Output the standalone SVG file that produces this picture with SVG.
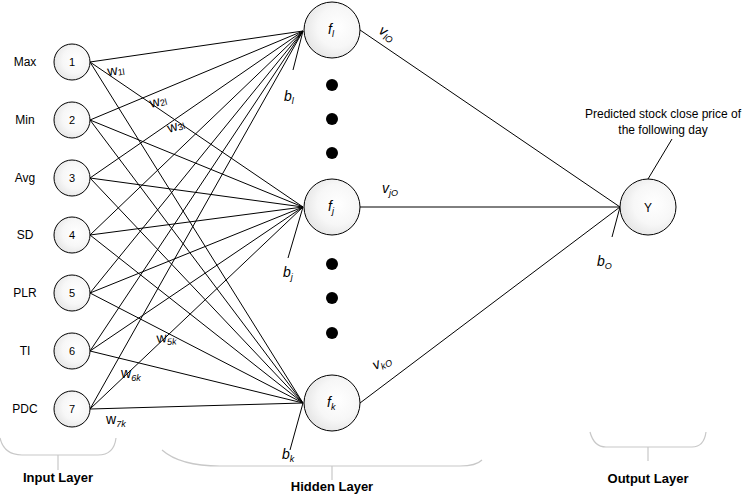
<svg xmlns="http://www.w3.org/2000/svg" width="751" height="496" viewBox="0 0 751 496">
<defs>
<radialGradient id="g" cx="0.6" cy="0.45" r="0.6">
<stop offset="0" stop-color="#ffffff"/>
<stop offset="0.6" stop-color="#f7f7f7"/>
<stop offset="1" stop-color="#e6e6e6"/>
</radialGradient>
</defs>
<style>
.n{fill:url(#g);stroke:#000;stroke-width:1}
.c{stroke:#000;stroke-width:1;fill:none}
.t{font-family:"Liberation Sans",Arial,sans-serif;font-size:12px;fill:#000}
.num{font-family:"Liberation Sans",Arial,sans-serif;font-size:11px;fill:#000;text-anchor:middle}
.it{font-family:"Liberation Sans",Arial,sans-serif;font-size:14px;font-style:italic;fill:#000}
.sub{font-size:9px}
.w{font-family:"Liberation Sans",Arial,sans-serif;font-size:14px;fill:#000}
.br{stroke:#c8c8c8;stroke-width:1.2;fill:none}
.lay{font-family:"Liberation Sans",Arial,sans-serif;font-size:13px;font-weight:bold;fill:#000;text-anchor:middle}
.dot{fill:#000}
</style>
<rect width="751" height="496" fill="#fff"/>
<g id="connectors">
<line class="c" x1="90" y1="62" x2="303" y2="31"/>
<line class="c" x1="90" y1="120" x2="303" y2="31"/>
<line class="c" x1="90" y1="178" x2="303" y2="31"/>
<line class="c" x1="90" y1="235" x2="303" y2="31"/>
<line class="c" x1="90" y1="293" x2="303" y2="31"/>
<line class="c" x1="90" y1="351" x2="303" y2="31"/>
<line class="c" x1="90" y1="409" x2="303" y2="31"/>
<line class="c" x1="90" y1="62" x2="303" y2="207"/>
<line class="c" x1="90" y1="120" x2="303" y2="207"/>
<line class="c" x1="90" y1="178" x2="303" y2="207"/>
<line class="c" x1="90" y1="235" x2="303" y2="207"/>
<line class="c" x1="90" y1="293" x2="303" y2="207"/>
<line class="c" x1="90" y1="351" x2="303" y2="207"/>
<line class="c" x1="90" y1="409" x2="303" y2="207"/>
<line class="c" x1="90" y1="62" x2="303" y2="403"/>
<line class="c" x1="90" y1="120" x2="303" y2="403"/>
<line class="c" x1="90" y1="178" x2="303" y2="403"/>
<line class="c" x1="90" y1="235" x2="303" y2="403"/>
<line class="c" x1="90" y1="293" x2="303" y2="403"/>
<line class="c" x1="90" y1="351" x2="303" y2="403"/>
<line class="c" x1="90" y1="409" x2="303" y2="403"/>
<line class="c" x1="303" y1="31" x2="293" y2="70"/>
<line class="c" x1="303" y1="207" x2="288" y2="258"/>
<line class="c" x1="303" y1="403" x2="290" y2="450"/>
<line class="c" x1="360" y1="30" x2="620" y2="207"/>
<line class="c" x1="360" y1="207" x2="620" y2="207"/>
<line class="c" x1="360" y1="403" x2="620" y2="207"/>
<line class="c" x1="620" y1="207" x2="612" y2="237"/>
<line class="c" x1="648" y1="179" x2="672" y2="139"/>
</g>
<g id="input1"><circle class="n" cx="72" cy="62" r="18"/><text class="num" x="72" y="66">1</text><text class="t" x="25" y="66" text-anchor="middle">Max</text></g>
<g id="input2"><circle class="n" cx="72" cy="120" r="18"/><text class="num" x="72" y="124">2</text><text class="t" x="25" y="124" text-anchor="middle">Min</text></g>
<g id="input3"><circle class="n" cx="72" cy="178" r="18"/><text class="num" x="72" y="182">3</text><text class="t" x="25" y="182" text-anchor="middle">Avg</text></g>
<g id="input4"><circle class="n" cx="72" cy="235" r="18"/><text class="num" x="72" y="239">4</text><text class="t" x="25" y="239" text-anchor="middle">SD</text></g>
<g id="input5"><circle class="n" cx="72" cy="293" r="18"/><text class="num" x="72" y="297">5</text><text class="t" x="25" y="297" text-anchor="middle">PLR</text></g>
<g id="input6"><circle class="n" cx="72" cy="351" r="18"/><text class="num" x="72" y="355">6</text><text class="t" x="25" y="355" text-anchor="middle">TI</text></g>
<g id="input7"><circle class="n" cx="72" cy="409" r="18"/><text class="num" x="72" y="413">7</text><text class="t" x="25" y="413" text-anchor="middle">PDC</text></g>
<g id="hidden_l"><circle class="n" cx="332" cy="30" r="28"/><text class="it" x="328" y="34">f<tspan class="sub" dy="3">l</tspan></text></g>
<g id="hidden_j"><circle class="n" cx="332" cy="207" r="28"/><text class="it" x="328" y="211">f<tspan class="sub" dy="3">j</tspan></text></g>
<g id="hidden_k"><circle class="n" cx="332" cy="403" r="28"/><text class="it" x="327" y="407">f<tspan class="sub" dy="3">k</tspan></text></g>
<g id="dots">
<circle class="dot" cx="332" cy="85" r="6"/>
<circle class="dot" cx="332" cy="119" r="6"/>
<circle class="dot" cx="332" cy="153" r="6"/>
<circle class="dot" cx="332" cy="264" r="6"/>
<circle class="dot" cx="332" cy="298" r="6"/>
<circle class="dot" cx="332" cy="333" r="6"/>
</g>
<g id="output"><circle class="n" cx="648" cy="207" r="28"/><text class="t" x="648" y="212" text-anchor="middle" font-size="13">Y</text></g>
<g id="labels">
<text class="it" x="284" y="101">b<tspan class="sub" dy="3">l</tspan></text>
<text class="it" x="283" y="277">b<tspan class="sub" dy="3">j</tspan></text>
<text class="it" x="282" y="459">b<tspan class="sub" dy="3">k</tspan></text>
<text class="it" x="597" y="266">b<tspan class="sub" dy="3">O</tspan></text>
<text class="it" transform="translate(378,33) rotate(30)">v<tspan class="sub" dy="3">lO</tspan></text>
<text class="it" x="382" y="193">v<tspan class="sub" dy="3">jO</tspan></text>
<text class="it" transform="translate(375,370) rotate(-25)">v<tspan class="sub" dy="3">kO</tspan></text>
<text class="w" transform="translate(108,76) rotate(-8)">w<tspan class="sub" dy="1">1l</tspan></text>
<text class="w" transform="translate(151,108) rotate(-15)">w<tspan class="sub" dy="1">2l</tspan></text>
<text class="w" transform="translate(169,133) rotate(-18)">w<tspan class="sub" dy="1">3l</tspan></text>
<text class="w" transform="translate(157,343) rotate(-5)">w<tspan class="sub" dy="3" font-style="italic">5k</tspan></text>
<text class="w" transform="translate(121,378)">w<tspan class="sub" dy="3" font-style="italic">6k</tspan></text>
<text class="w" x="106" y="424">w<tspan class="sub" dy="3" font-style="italic">7k</tspan></text>
<text class="t" x="663" y="118" text-anchor="middle" font-size="13">Predicted stock close price of</text>
<text class="t" x="663" y="134" text-anchor="middle" font-size="13">the following day</text>
</g>
<g id="braces">
<path class="br" d="M0,438 Q4,455 22,455 L98,455 Q114,455 116,438 M58,455 L58,470"/>
<path class="br" d="M162,450 Q180,466 220,466 L460,466 Q476,466 482,460 M332,466 L332,480"/>
<path class="br" d="M590,432 Q594,447 606,447 L692,447 Q704,447 706,432 M648,447 L648,461"/>
</g>
<g id="layers">
<text class="lay" x="58" y="482">Input Layer</text>
<text class="lay" x="332" y="491">Hidden Layer</text>
<text class="lay" x="648" y="483">Output Layer</text>
</g>
</svg>
